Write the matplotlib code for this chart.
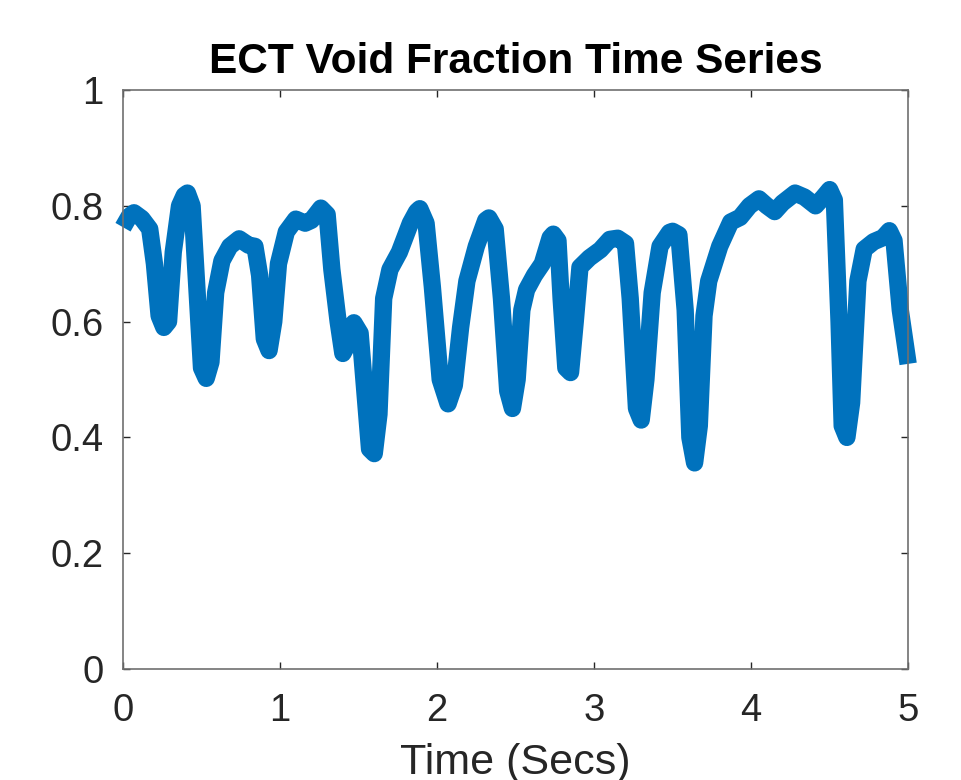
import matplotlib
matplotlib.use('Agg')
import matplotlib.pyplot as plt

# --- Data ---
time_s = [0.00, 0.04, 0.07, 0.12, 0.17, 0.20, 0.23, 0.26, 0.29, 0.32,
          0.36, 0.39, 0.41, 0.44, 0.47, 0.50, 0.53, 0.56, 0.59, 0.63, 0.68,
          0.74, 0.80, 0.84, 0.87, 0.90, 0.93, 0.96, 0.99, 1.04, 1.10,
          1.16, 1.20, 1.26, 1.30, 1.33, 1.37, 1.40, 1.43, 1.47, 1.51,
          1.54, 1.57, 1.60, 1.63, 1.66, 1.70, 1.76, 1.83, 1.87, 1.89, 1.93,
          1.97, 2.02, 2.07, 2.11, 2.15, 2.19, 2.25, 2.31, 2.33, 2.37, 2.41,
          2.45, 2.48, 2.51, 2.54, 2.57, 2.62, 2.67, 2.72, 2.74, 2.77, 2.79,
          2.82, 2.85, 2.88, 2.91, 2.97, 3.04, 3.10, 3.15, 3.20, 3.23,
          3.27, 3.30, 3.33, 3.37, 3.42, 3.48, 3.50, 3.54, 3.58, 3.61, 3.64,
          3.67, 3.70, 3.73, 3.80, 3.87, 3.93, 3.99, 4.05, 4.10, 4.15,
          4.20, 4.28, 4.34, 4.41, 4.46, 4.50, 4.53, 4.56, 4.58, 4.61,
          4.64, 4.68, 4.72, 4.78, 4.84, 4.88, 4.91, 4.95, 5.00]
void_fraction = [0.763, 0.782, 0.788, 0.778, 0.760, 0.700, 0.610, 0.590, 0.600, 0.720,
                 0.800, 0.818, 0.822, 0.800, 0.660, 0.520, 0.502, 0.530, 0.650, 0.705, 0.730,
                 0.743, 0.732, 0.730, 0.680, 0.570, 0.550, 0.600, 0.700, 0.755, 0.777,
                 0.770, 0.775, 0.796, 0.785, 0.690, 0.600, 0.545, 0.560, 0.598, 0.580,
                 0.480, 0.380, 0.372, 0.440, 0.640, 0.690, 0.720, 0.770, 0.790, 0.795, 0.770,
                 0.660, 0.500, 0.458, 0.490, 0.590, 0.670, 0.730, 0.775, 0.779, 0.760, 0.640,
                 0.480, 0.450, 0.500, 0.620, 0.655, 0.680, 0.700, 0.745, 0.751, 0.740, 0.640,
                 0.520, 0.512, 0.600, 0.694, 0.710, 0.724, 0.742, 0.744, 0.735, 0.640,
                 0.450, 0.430, 0.500, 0.650, 0.730, 0.754, 0.756, 0.750, 0.620, 0.400, 0.356,
                 0.420, 0.610, 0.670, 0.730, 0.772, 0.780, 0.800, 0.812, 0.800, 0.790,
                 0.805, 0.822, 0.815, 0.800, 0.815, 0.828, 0.810, 0.600, 0.420, 0.400,
                 0.460, 0.670, 0.725, 0.738, 0.745, 0.757, 0.740, 0.620, 0.527]

x_ticks = [0, 1, 2, 3, 4, 5]
y_ticks = [0, 0.2, 0.4, 0.6, 0.8, 1]
y_tick_labels = ['0', '0.2', '0.4', '0.6', '0.8', '1']

plt.rcParams['font.family'] = ['Liberation Sans', 'DejaVu Sans']

fig = plt.figure(figsize=(9.61, 7.80), dpi=100)
ax = fig.add_axes([0.128, 0.1423, 0.817, 0.7423])

ax.plot(time_s, void_fraction, color='#0072BD', linewidth=12.5,
        solid_joinstyle='round', solid_capstyle='butt', clip_on=False)

ax.set_xlim(0, 5)
ax.set_ylim(0, 1)
ax.set_xticks(x_ticks)
ax.set_yticks(y_ticks)
ax.set_yticklabels(y_tick_labels)

for s in ax.spines.values():
    s.set_color('#707070')
    s.set_linewidth(1.2)
ax.tick_params(direction='in', length=5, width=1, colors='#262626',
               labelsize=27.5, top=True, right=True)
ax.tick_params(axis='x', pad=17)
ax.tick_params(axis='y', pad=14)

# the reference crops the bottom of the x label at the figure edge
ax.set_xlabel('Time (Secs)', fontsize=31, color='#262626', labelpad=10)
ax.set_title('ECT Void Fraction Time Series', fontsize=30.5, fontweight='bold',
             color='black', pad=12)

plt.savefig('out.png', dpi=100)
